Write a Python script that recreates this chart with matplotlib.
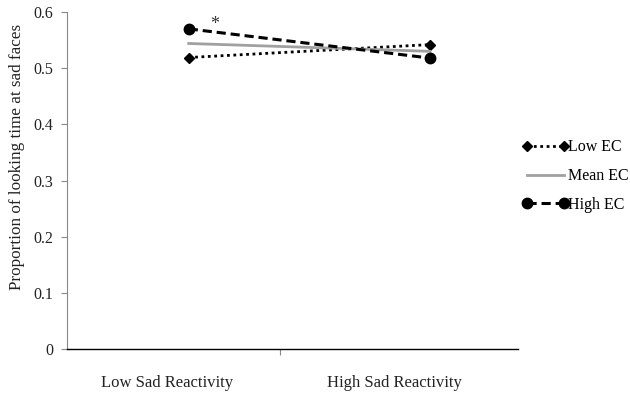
import matplotlib
matplotlib.use('Agg')
from matplotlib import pyplot as plt

# data
x_pos = [0.54, 1.61]
categories = ["Low Sad Reactivity", "High Sad Reactivity"]
cat_label_pos = [0.443, 1.45]
low_ec = [0.519, 0.542]
mean_ec = [0.544, 0.530]
high_ec = [0.570, 0.518]
yticks = [0, 0.1, 0.2, 0.3, 0.4, 0.5, 0.6]
ytick_labels = ["0", "0.1", "0.2", "0.3", "0.4", "0.5", "0.6"]

plt.rcParams['font.family'] = ['Liberation Serif', 'DejaVu Serif']

fig = plt.figure(figsize=(6.3, 3.98), dpi=100)
ax = fig.add_axes([0.1063, 0.1231, 0.7159, 0.8467])

ax.plot(x_pos, low_ec, color='black', linestyle=(0, (1, 1.3)), linewidth=2,
        marker='D', markersize=5, label='Low EC')
ax.plot(x_pos, mean_ec, color='#a0a0a0', linestyle='-', linewidth=2, label='Mean EC')
ax.plot(x_pos, high_ec, color='black', linestyle=(0, (3, 1.6)), linewidth=2.2,
        marker='o', markersize=7.5, label='High EC')

ax.text(0.655, 0.578, '*', fontsize=13, ha='center', va='center', color='#333333')

ax.set_xlim(0, 2)
ax.set_ylim(0, 0.6)
ax.set_yticks(yticks)
ax.set_yticklabels(ytick_labels, fontsize=11.5, color='#222222')
ax.set_xticks([0.945])
ax.set_xticklabels([''])
for xp, lab in zip(cat_label_pos, categories):
    ax.text(xp, -0.10, lab, fontsize=12, ha='center', va='center',
            transform=ax.get_xaxis_transform(), color='#222222')

ax.spines['top'].set_visible(False)
ax.spines['right'].set_visible(False)
ax.spines['left'].set_color('#888888')
ax.spines['bottom'].set_color('black')
ax.spines['bottom'].set_linewidth(1.0)
ax.tick_params(axis='y', length=4, color='#888888', pad=6)
ax.tick_params(axis='x', length=4, color='#888888')

ax.set_ylabel('Proportion of looking time at sad faces', fontsize=12.3, color='#222222')
ax.yaxis.set_label_coords(-0.093, 0.57)

ax.legend(loc='upper left', bbox_to_anchor=(0.995, 0.641), frameon=False, numpoints=2,
          handlelength=2.9, handletextpad=0.0, labelspacing=0.8, fontsize=11.5,
          borderaxespad=0)

fig.savefig('out.png', dpi=100)
